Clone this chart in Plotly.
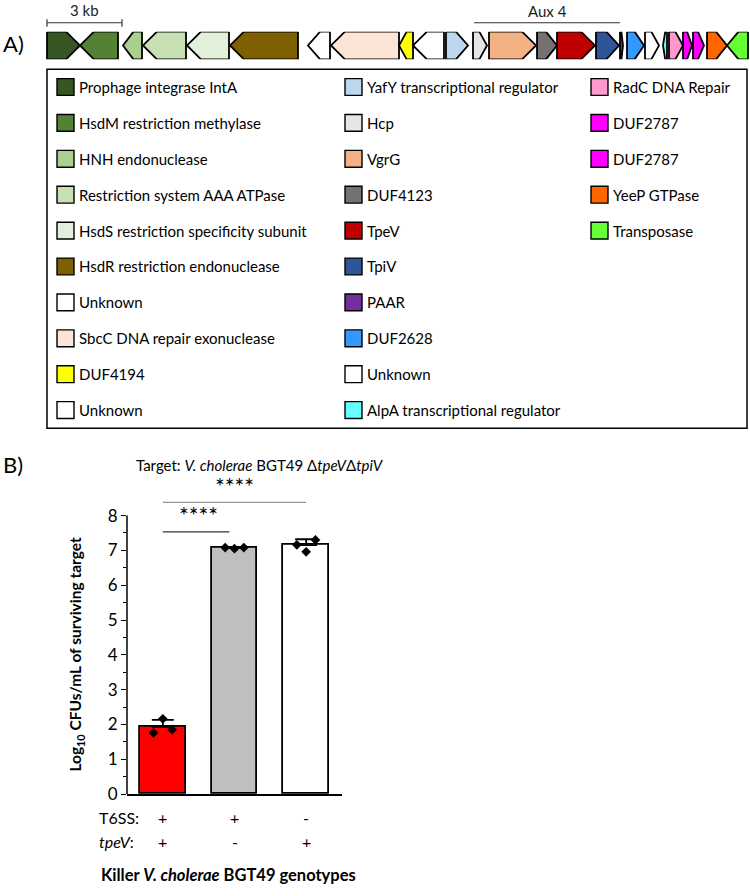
import plotly.graph_objects as go

W, H = 750, 896

# ---------------- Panel A data: gene cluster (positions in kb) ----------------
gene_names = [
    "Prophage integrase IntA", "HsdM restriction methylase", "HNH endonuclease",
    "Restriction system AAA ATPase", "HsdS restriction specificity subunit",
    "HsdR restriction endonuclease", "Unknown", "SbcC DNA repair exonuclease",
    "DUF4194", "Unknown",
    "YafY transcriptional regulator", "Hcp", "VgrG", "DUF4123", "TpeV", "TpiV",
    "PAAR", "DUF2628", "Unknown", "AlpA transcriptional regulator",
    "RadC DNA Repair", "DUF2787", "DUF2787", "YeeP GTPase", "Transposase",
]
gene_start_kb = [0.00, 1.32, 3.04, 3.84, 5.60, 7.32, 10.44, 11.36, 14.08, 14.64,
                 15.96, 17.04, 17.68, 19.60, 20.40, 21.96, 22.92, 23.20, 23.92, 24.64,
                 24.88, 25.44, 25.84, 26.40, 27.20]
gene_end_kb = [1.32, 2.84, 3.80, 5.56, 7.28, 10.04, 11.32, 14.08, 14.64, 15.88,
               16.84, 17.60, 19.56, 20.40, 21.92, 22.88, 23.04, 23.88, 24.48, 24.80,
               25.44, 25.80, 26.28, 27.20, 28.04]
gene_strand = [1, -1, -1, -1, -1, -1, -1, -1, -1, -1,
               1, 1, 1, 1, 1, 1, 1, 1, 1, -1,
               1, 1, 1, 1, -1]
gene_colors = ["#375623", "#548235", "#A9D08E", "#C6E0B4", "#E2EFDA", "#7F6000",
               "#FFFFFF", "#FCE4D6", "#FFFF00", "#FFFFFF",
               "#BDD7EE", "#E7E6E6", "#F4B183", "#767171", "#C00000", "#2F5597",
               "#7030A0", "#3399FF", "#FFFFFF", "#66FFFF",
               "#FF99CC", "#FF00FF", "#FF00FF", "#FF6600", "#66FF33"]
legend_columns = [list(range(0, 10)), list(range(10, 20)), list(range(20, 25))]
scale_bar_kb = 3
aux4_kb = (17.08, 22.92)

# ---------------- Panel B data ----------------
genotypes = ["WT", "tpeV-", "T6SS-"]
t6ss_row = ["+", "+", "-"]
tpev_row = ["+", "-", "+"]
mean_log_cfu = [1.93, 7.07, 7.15]
sd_log_cfu = [0.20, 0.02, 0.17]
replicates = [[1.76, 2.16, 1.85], [7.08, 7.05, 7.08], [7.16, 6.96, 7.30]]
bar_colors = ["#FF0000", "#BFBFBF", "#FFFFFF"]
sig_pairs = [(0, 1, "****"), (0, 2, "****")]
y_ticks = list(range(0, 9))

FONT = "Lato"


def px(x):
    return x / W


def py(y):
    return 1 - y / H


def note(x, y, text, size, xanchor="center", yanchor="middle", xref="paper", yref="paper", **kw):
    return dict(xref=xref, yref=yref, x=x, y=y, text=text, showarrow=False,
                xanchor=xanchor, yanchor=yanchor,
                font=dict(size=size, color=kw.pop("color", "black")), **kw)


fig = go.Figure()

# ---- gene arrows ----
for i, name in enumerate(gene_names):
    s, e, st = gene_start_kb[i], gene_end_kb[i], gene_strand[i]
    length = e - s
    head = min(0.56, 0.55 * length)
    if st > 0:
        xs = [s, e - head, e, e - head, s, s]
    else:
        xs = [e, s + head, s, s + head, e, e]
    ys = [1, 1, 0.5, 0, 0, 1]
    fig.add_trace(go.Scatter(
        x=xs, y=ys, mode="lines", fill="toself", fillcolor=gene_colors[i],
        line=dict(color="black", width=1.8), xaxis="x2", yaxis="y2",
        hoverinfo="text", text=name, showlegend=False))

shapes = []
annotations = []

# scale bar
shapes.append(dict(type="line", xref="x2", yref="paper", x0=0, x1=scale_bar_kb,
                   y0=py(23), y1=py(23), line=dict(color="#333", width=1.2)))
for xv in (0, scale_bar_kb):
    shapes.append(dict(type="line", xref="x2", yref="paper", x0=xv, x1=xv,
                       y0=py(19.5), y1=py(27), line=dict(color="#333", width=1.2)))
annotations.append(note(scale_bar_kb / 2, py(10), "3 kb", 15, xref="x2", color="#222"))
# Aux 4 bar
shapes.append(dict(type="line", xref="x2", yref="paper", x0=aux4_kb[0], x1=aux4_kb[1],
                   y0=py(23), y1=py(23), line=dict(color="#333", width=1.2)))
annotations.append(note(sum(aux4_kb) / 2, py(11), "Aux 4", 15, xref="x2", color="#222"))
annotations.append(note(px(1), py(44), "A)", 22, xanchor="left"))

# legend box
shapes.append(dict(type="rect", xref="paper", yref="paper", x0=px(47), x1=px(747),
                   y0=py(433), y1=py(70), line=dict(color="black", width=1.5)))
col_x = [57, 345, 591]
row0, row_step, sw = 88, 36.3, 17
for c, idxs in enumerate(legend_columns):
    for r, gi in enumerate(idxs):
        yc = row0 + r * row_step
        shapes.append(dict(type="rect", xref="paper", yref="paper",
                           x0=px(col_x[c]), x1=px(col_x[c] + sw),
                           y0=py(yc + sw / 2), y1=py(yc - sw / 2),
                           fillcolor=gene_colors[gi], line=dict(color="black", width=1.4)))
        annotations.append(note(px(col_x[c] + sw + 3), py(yc), gene_names[gi], 15,
                                xanchor="left"))

# ---- Panel B ----
xpos = list(range(len(genotypes)))
fig.add_trace(go.Bar(
    x=xpos, y=mean_log_cfu, width=0.64,
    marker=dict(color=bar_colors, line=dict(color="black", width=1.8)),
    error_y=dict(type="data", symmetric=False, array=sd_log_cfu,
                 arrayminus=[0] * len(sd_log_cfu), color="black", thickness=1.8, width=11),
    showlegend=False, xaxis="x", yaxis="y"))
offsets = [-0.13, 0.0, 0.13]
for i, reps in enumerate(replicates):
    fig.add_trace(go.Scatter(
        x=[i + o for o in offsets], y=reps, mode="markers",
        marker=dict(symbol="diamond", size=7.5, color="black"),
        showlegend=False, xaxis="x", yaxis="y"))

# y axis line (0..8)
shapes.append(dict(type="line", xref="x domain", yref="y", x0=0, x1=0, y0=0, y1=max(y_ticks),
                   line=dict(color="black", width=1.5)))
# significance
sig_y = [7.53, 8.38]
sig_col = ["#333333", "#999999"]
for k, (a, b, lab) in enumerate(sig_pairs):
    shapes.append(dict(type="line", xref="x", yref="y", x0=a, x1=b - 0.07 if k == 0 else b,
                       y0=sig_y[k], y1=sig_y[k], line=dict(color=sig_col[k], width=1.3)))
    annotations.append(note((a + b) / 2, sig_y[k] + 0.02, lab, 23, xref="x", yref="y",
                            yanchor="bottom"))

annotations.append(note(px(1), py(470), "B)", 22, xanchor="left"))
annotations.append(note(px(260), py(470),
                        "Target: <i>V. cholerae</i> BGT49 Δ<i>tpeV</i>Δ<i>tpiV</i>", 15))
annotations.append(note(px(76), py(662),
                        "<b>Log<sub>10</sub> CFUs/mL of surviving target</b>", 15.5,
                        textangle=-90))
annotations.append(note(px(97), py(827), "T6SS:", 16, xanchor="left"))
annotations.append(note(px(97), py(851), "<i>tpeV</i>:", 16, xanchor="left"))
for i in xpos:
    annotations.append(note(i, py(827), t6ss_row[i], 16, xref="x"))
    annotations.append(note(i, py(851), tpev_row[i], 16, xref="x"))
annotations.append(note(px(228), py(885),
                        "<b>Killer <i>V. cholerae</i> BGT49 genotypes</b>", 16.5))

unit = 35.2
y_top_px = 803 - 9 * unit

fig.update_layout(
    width=W, height=H, margin=dict(l=0, r=0, t=0, b=0),
    paper_bgcolor="white", plot_bgcolor="rgba(0,0,0,0)",
    font=dict(family=FONT, color="black"),
    showlegend=False, bargap=0,
    xaxis=dict(domain=[px(127), px(342)], range=[-0.5, 2.5], anchor="y",
               showline=True, linecolor="black", linewidth=1.5, showgrid=False,
               zeroline=False, showticklabels=False, ticks=""),
    yaxis=dict(domain=[py(803), py(y_top_px)], range=[0, 9], anchor="x",
               showline=False, showgrid=False, zeroline=False,
               tickvals=y_ticks, ticks="outside", ticklen=5, tickwidth=1.2,
               tickcolor="black", tickfont=dict(size=17, color="black"),
               minor=dict(tickvals=[v + 0.5 for v in y_ticks[:-1]], ticks="outside",
                          ticklen=3, tickcolor="black", tickwidth=1)),
    xaxis2=dict(domain=[0, 1], range=[-47 / 25, (W - 47) / 25], anchor="y2",
                visible=False),
    yaxis2=dict(domain=[py(60), py(32)], range=[0, 1], anchor="x2", visible=False),
    shapes=shapes, annotations=annotations,
)

fig.write_html("out.html", config={"displayModeBar": False},
               post_script="document.body.style.margin='0';document.body.style.padding='0';")
